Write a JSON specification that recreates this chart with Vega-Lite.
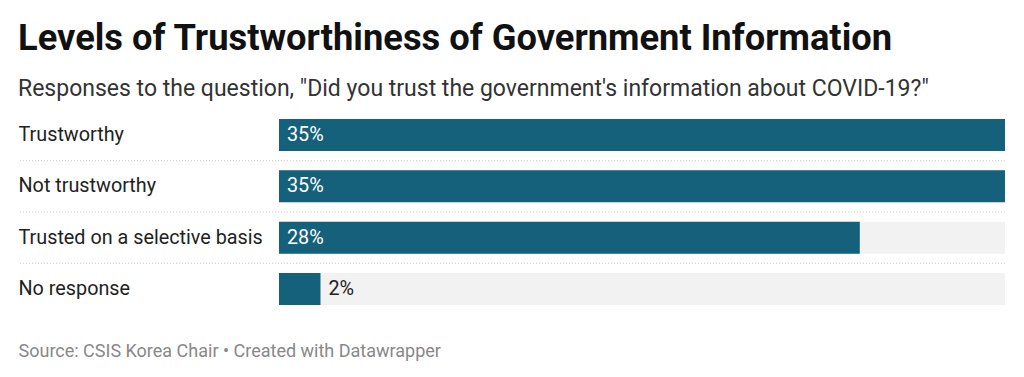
{
  "$schema": "https://vega.github.io/schema/vega-lite/v6.json",
  "width": 987,
  "height": 186,
  "autosize": {"type": "none"},
  "padding": {"left": 18, "right": 19, "top": 119, "bottom": 72},
  "background": "white",
  "title": {
    "text": "Levels of Trustworthiness of Government Information",
    "subtitle": "Responses to the question, \"Did you trust the government's information about COVID-19?\"",
    "anchor": "start",
    "frame": "group",
    "offset": 18,
    "font": "Roboto",
    "fontSize": 36.3,
    "fontWeight": "bold",
    "color": "#111111",
    "subtitleFont": "Roboto",
    "subtitleFontSize": 23,
    "subtitleColor": "#333333",
    "subtitlePadding": 21
  },
  "data": {
    "values": [
      {"response": "Trustworthy", "pct": 0.35},
      {"response": "Not trustworthy", "pct": 0.35},
      {"response": "Trusted on a selective basis", "pct": 0.28},
      {"response": "No response", "pct": 0.02}
    ]
  },
  "encoding": {
    "y": {
      "field": "response",
      "type": "nominal",
      "sort": null,
      "scale": {"paddingInner": 0.377, "paddingOuter": 0},
      "axis": {
        "title": null,
        "domain": false,
        "ticks": false,
        "labelAlign": "left",
        "labelPadding": 0,
        "labelFont": "Roboto",
        "labelFontSize": 19.8,
        "labelColor": "#222222",
        "labelLimit": 0
      }
    }
  },
  "layer": [
    {
      "mark": {"type": "bar", "color": "#f2f2f2"},
      "encoding": {
        "x": {
          "datum": 0.35,
          "type": "quantitative",
          "scale": {"domain": [0, 0.35], "range": [261, 987], "nice": false},
          "axis": {
            "labels": false,
            "ticks": false,
            "domain": false,
            "grid": false,
            "title": "Source: CSIS Korea Chair • Created with Datawrapper",
            "titleX": 0,
            "titleY": 51,
            "titleAlign": "left",
            "titleBaseline": "alphabetic",
            "titleFont": "Roboto",
            "titleFontSize": 18,
            "titleFontWeight": "normal",
            "titleColor": "#888888"
          }
        }
      }
    },
    {
      "mark": {"type": "bar", "color": "#15607a"},
      "encoding": {"x": {"field": "pct", "type": "quantitative"}}
    },
    {
      "transform": [{"filter": "datum.pct >= 0.1"}],
      "mark": {"type": "text", "align": "left", "baseline": "middle", "dx": 8, "font": "Roboto", "fontSize": 19.8, "color": "#ffffff"},
      "encoding": {
        "x": {"datum": 0, "type": "quantitative"},
        "text": {"field": "pct", "type": "quantitative", "format": ".0%"}
      }
    },
    {
      "transform": [{"filter": "datum.pct < 0.1"}],
      "mark": {"type": "text", "align": "left", "baseline": "middle", "dx": 8, "font": "Roboto", "fontSize": 19.8, "color": "#222222"},
      "encoding": {
        "x": {"field": "pct", "type": "quantitative"},
        "text": {"field": "pct", "type": "quantitative", "format": ".0%"}
      }
    },
    {
      "transform": [{"filter": "datum.response != 'No response'"}],
      "mark": {"type": "rule", "color": "#cccccc", "strokeDash": [1, 2], "strokeWidth": 1},
      "encoding": {
        "y": {"field": "response", "type": "nominal", "sort": null, "bandPosition": 1.302}
      }
    }
  ],
  "config": {"view": {"stroke": null}}
}
